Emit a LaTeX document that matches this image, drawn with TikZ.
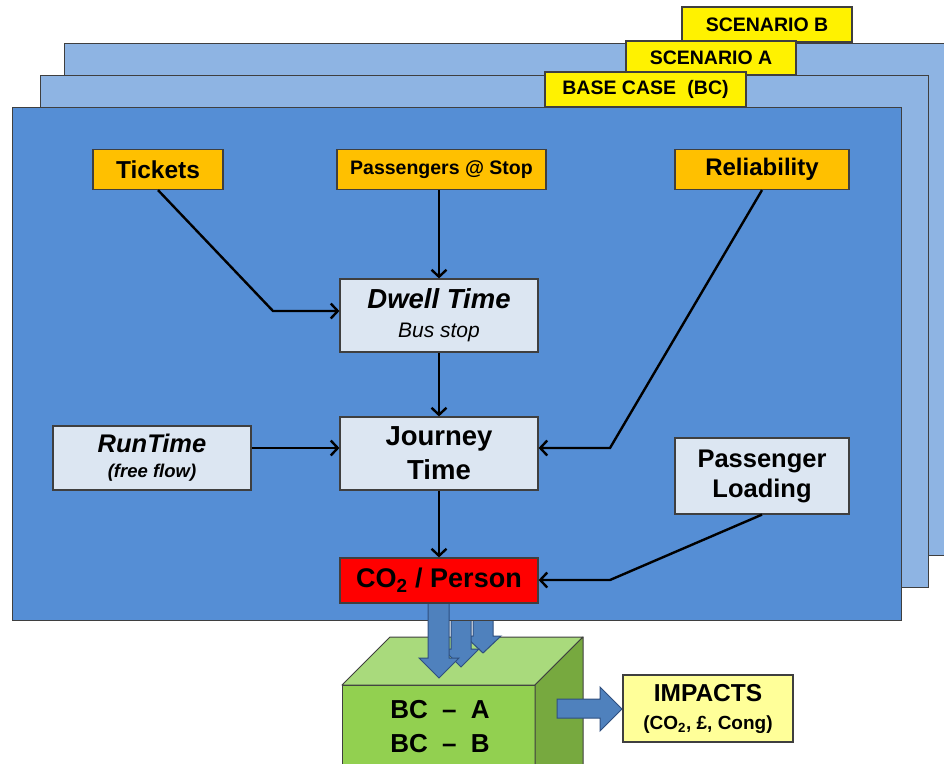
\documentclass[tikz,border=0pt]{standalone}
\usepackage{fontspec}
\setmainfont{Liberation Sans}
\usetikzlibrary{arrows.meta}
\definecolor{panelfront}{HTML}{558ED5}
\definecolor{panelback}{HTML}{8EB4E3}
\definecolor{edgegray}{HTML}{3F3F3F}
\definecolor{orangefill}{HTML}{FFC000}
\definecolor{lightfill}{HTML}{DCE6F2}
\definecolor{greenfront}{HTML}{92D050}
\definecolor{greentop}{HTML}{A9DA7C}
\definecolor{greenside}{HTML}{77A93F}
\definecolor{arrowblue}{HTML}{4F81BD}
\definecolor{arrowedge}{HTML}{2F4F7F}
\definecolor{paleyellow}{HTML}{FFFF99}
\begin{document}
\begin{tikzpicture}[x=1pt,y=-1pt,
  panel/.style={draw=edgegray,line width=1pt},
  box/.style={draw=edgegray,line width=1.2pt,inner sep=0pt,align=center,text=black},
  tagbox/.style={box,fill=yellow,font=\fontsize{19.5}{23}\selectfont\bfseries},
  inbox/.style={box,fill=orangefill},
  calcbox/.style={box,fill=lightfill},
  conn/.style={draw=black,line width=2.4pt,-{Straight Barb[length=7pt,width=15pt,line width=2.4pt]}},
  blockarrow/.style={fill=arrowblue,draw=arrowedge,line width=1pt,line join=miter},
  cube/.style={draw=edgegray,line width=1pt,line join=round},
]
\useasboundingbox (0,0) rectangle (944,763);
\clip (0,0) rectangle (944,763);

% back panel (scenario B)
\filldraw[panel,fill=panelback] (64,43) rectangle (960,555);
\node[tagbox,minimum width=170pt,minimum height=35pt] (scB) at (767,24.5) {SCENARIO B};
% middle panel (scenario A)
\filldraw[panel,fill=panelback] (40,75) rectangle (928,587);
\node[tagbox,minimum width=170pt,minimum height=34pt] (scA) at (711,58) {SCENARIO A};

% green cuboid
\filldraw[cube,fill=greenfront] (342,685) -- (535,685) -- (535,775) -- (342,775) -- cycle;
\filldraw[cube,fill=greentop] (342,685) -- (390,637) -- (583,637) -- (535,685) -- cycle;
\filldraw[cube,fill=greenside] (535,685) -- (583,637) -- (583,775) -- (535,775) -- cycle;
\node[font=\fontsize{26}{30}\selectfont\bfseries,anchor=base] (bcA) at (440,718) {BC\hspace{0.55em}–\hspace{0.55em}A};
\node[font=\fontsize{26}{30}\selectfont\bfseries,anchor=base] (bcB) at (440,752) {BC\hspace{0.55em}–\hspace{0.55em}B};

% block arrows from other scenarios
\filldraw[blockarrow] (473,600) -- (493,600) -- (493,636) -- (501,636) -- (483,653) -- (465,636) -- (473,636) -- cycle;
\filldraw[blockarrow] (451,600) -- (471,600) -- (471,649) -- (479,649) -- (461,667) -- (443,649) -- (451,649) -- cycle;

% front panel (base case)
\filldraw[panel,fill=panelfront] (12,107) rectangle (901,620);
\node[tagbox,minimum width=201pt,minimum height=35pt] (scBC) at (645.5,89.5) {BASE CASE\hspace{0.3em} (BC)};

% main block arrow
\filldraw[blockarrow] (428,603) -- (449,603) -- (449,658) -- (459,658) -- (439,678) -- (419,658) -- (428,658) -- cycle;

% input boxes
\node[inbox,minimum width=130pt,minimum height=40pt,font=\fontsize{24.5}{28}\selectfont\bfseries] (Tickets) at (158,169.5) {Tickets};
\node[inbox,minimum width=209pt,minimum height=40pt,font=\fontsize{19.5}{23}\selectfont\bfseries] (Passengers) at (441.5,169.5) {Passengers @ Stop};
\node[inbox,minimum width=174pt,minimum height=40pt,font=\fontsize{24}{28}\selectfont\bfseries] (Reliability) at (762,169.5) {Reliability};

% calculation boxes
\node[calcbox,minimum width=198pt,minimum height=73pt,font=\fontsize{27.5}{29}\selectfont\bfseries\itshape] (Dwell) at (439,315.5) {Dwell Time\\{\fontsize{21}{29}\selectfont\mdseries\itshape Bus stop}};
\node[calcbox,minimum width=198pt,minimum height=73pt,font=\fontsize{27.5}{34}\selectfont\bfseries] (Journey) at (439,453.5) {Journey\\Time};
\node[calcbox,minimum width=198pt,minimum height=64pt,font=\fontsize{25.5}{25}\selectfont\bfseries\itshape] (RunTime) at (152,458) {RunTime\\{\fontsize{18.5}{25}\selectfont (free flow)}};
\node[calcbox,minimum width=174pt,minimum height=76pt,font=\fontsize{25.5}{30}\selectfont\bfseries] (Loading) at (762,476) {Passenger\\Loading};
\node[box,fill=red,minimum width=198pt,minimum height=45pt,font=\fontsize{27}{32}\selectfont\bfseries] (CO2) at (439,580.5) {CO\textsubscript{2} / Person};

% connectors
\coordinate (tkbend) at (273,311);
\coordinate (rlbend) at (610,448);
\coordinate (ldbend) at (610,580);
\draw[conn] (Tickets.south) -- (tkbend) -- (tkbend -| Dwell.west);
\draw[conn] (Passengers.south -| Dwell.north) -- (Dwell.north);
\draw[conn] (Reliability.south) -- (rlbend) -- (rlbend -| Journey.east);
\draw[conn] (Dwell) -- (Journey);
\draw[conn] (RunTime.east |- rlbend) -- (rlbend -| Journey.west);
\draw[conn] (Journey) -- (CO2);
\draw[conn] (Loading.south) -- (ldbend) -- (ldbend -| CO2.east);

% impacts
\filldraw[blockarrow] (557,699) -- (600,699) -- (600,687) -- (622,709) -- (600,731) -- (600,718) -- (557,718) -- cycle;
\node[box,fill=paleyellow,minimum width=170pt,minimum height=67pt,font=\fontsize{24.5}{28}\selectfont\bfseries] (Impacts) at (708,708.5) {IMPACTS\\{\fontsize{19}{28}\selectfont (CO\textsubscript{2}, £, Cong)}};
\end{tikzpicture}
\end{document}
